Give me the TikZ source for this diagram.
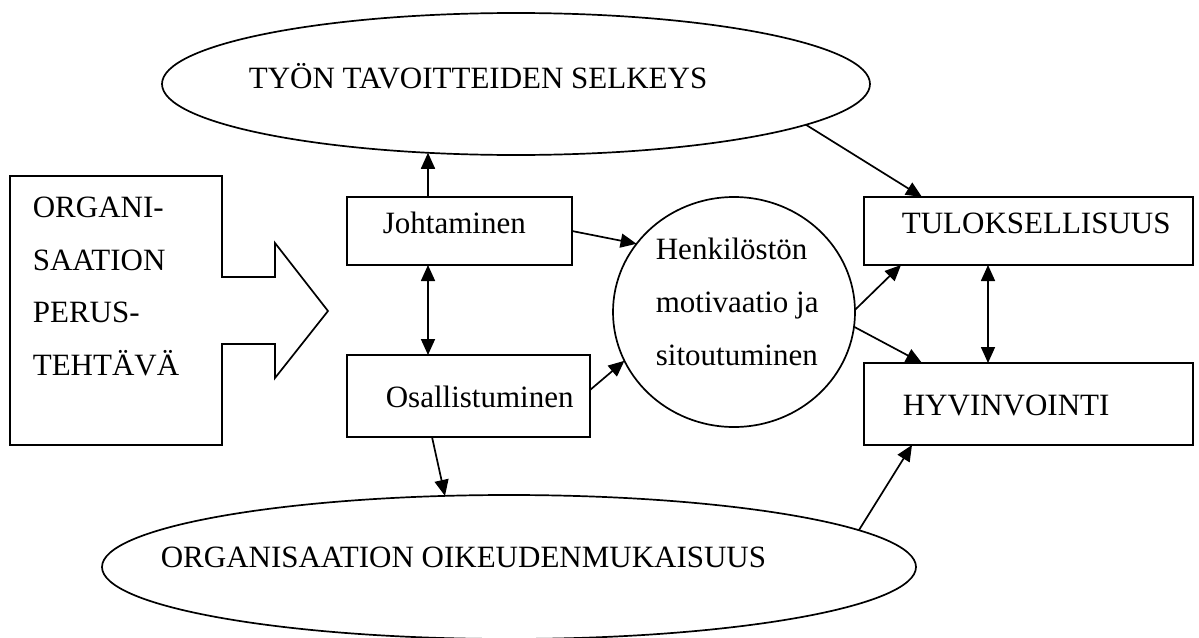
\documentclass[tikz,border=0pt]{standalone}
\usepackage{fontspec}
\setmainfont{Liberation Serif}
\usetikzlibrary{arrows.meta,shapes.geometric,calc}
\begin{document}
\begin{tikzpicture}[x=1pt,y=-1pt,
  line width=1.7pt,
  txt/.style={anchor=base west,inner sep=0pt,font=\fontsize{31}{37}\selectfont},
  boxnode/.style={draw,rectangle,inner sep=0pt,outer sep=0pt},
  ell/.style={draw,ellipse,inner sep=0pt,outer sep=0pt},
  arr/.style={-{Triangle[length=16pt,width=14pt]}},
  darr/.style={{Triangle[length=16pt,width=14pt]}-{Triangle[length=16pt,width=14pt]}}]
\useasboundingbox (0,0) rectangle (1199,637);
% left block arrow
\draw (10,176) -- (222,176) -- (222,277) -- (275,277) -- (275,243) -- (328,311)
  -- (275,378) -- (275,344) -- (222,344) -- (222,445) -- (10,445) -- cycle;
\node[txt] (p1) at (32,217) {ORGANI-};
\node[txt] (p2) at (32,270) {SAATION};
\node[txt] (p3) at (32,322) {PERUS-};
\node[txt] (p4) at (32,375) {TEHTÄVÄ};
% ellipses
\node[ell,minimum width=708pt,minimum height=142pt] (TE) at (516,84) {};
\node[txt] (TEt) at (248,88) {TYÖN TAVOITTEIDEN SELKEYS};
\node[ell,minimum width=814pt,minimum height=144pt] (BE) at (509,567) {};
\node[txt] (BEt) at (160,567) {ORGANISAATION OIKEUDENMUKAISUUS};
% boxes
\node[boxnode,minimum width=225pt,minimum height=68pt] (J) at (459.5,231) {};
\node[txt] (Jt) at (382,233) {Johtaminen};
\node[boxnode,minimum width=243pt,minimum height=82pt] (O) at (468.5,396) {};
\node[txt] (Ot) at (385,407) {Osallistuminen};
\node[boxnode,minimum width=329pt,minimum height=68pt] (T) at (1028.5,231) {};
\node[txt] (Tt) at (901,233) {TULOKSELLISUUS};
\node[boxnode,minimum width=329pt,minimum height=82pt] (H) at (1028.5,404) {};
\node[txt] (Ht) at (902,415) {HYVINVOINTI};
% circle
\node[ell,minimum width=242pt,minimum height=230pt] (C) at (734,312) {};
\node[txt] (C1) at (655,259) {Henkilöstön};
\node[txt] (C2) at (655,312) {motivaatio ja};
\node[txt] (C3) at (655,365) {sitoutuminen};
% connectors
\draw[arr] ($(J.north west)+(81,0)$) -- (TE.218.7);
\draw[darr] ($(J.south west)+(81,0)$) -- ($(O.north west)+(81,0)$);
\draw[arr] (J.east) -- (C.145.6);
\draw[arr] ($(O.east)+(0,-6)$) -- (C.204.5);
\draw[arr] ($(O.south west)+(85,0)$) -- (BE.132.9);
\draw[arr] (TE.352.3) -- ($(T.north west)+(58,0)$);
\draw[arr] (C.1) -- ($(T.south west)+(37,0)$);
\draw[arr] (C.353) -- ($(H.north west)+(58,0)$);
\draw[darr] ($(T.south west)+(124,0)$) -- ($(H.north west)+(124,0)$);
\draw[arr] (BE.6.25) -- ($(H.south west)+(48,0)$);
\end{tikzpicture}
\end{document}
